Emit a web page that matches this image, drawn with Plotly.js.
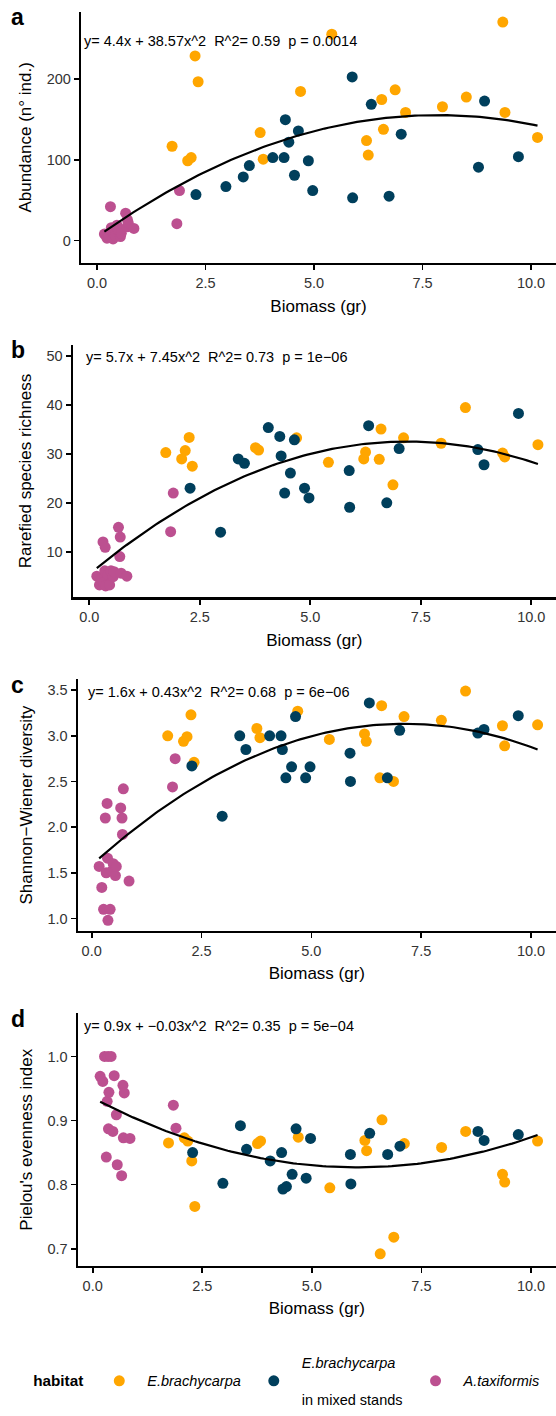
<!DOCTYPE html>
<html>
<head>
<meta charset="utf-8">
<script src="https://cdn.plot.ly/plotly-3.0.1.min.js"></script>
<style>
  html, body { margin: 0; padding: 0; background: #fff; }
  #chart { width: 556px; height: 1416px; }
</style>
</head>
<body>
<div id="chart"></div>
<script>
// ---- Data: biomass (gr) per sample and the four diversity metrics ----
const habitatNames = ['E.brachycarpa', 'E.brachycarpa in mixed stands', 'A.taxiformis'];

// E. brachycarpa
const ebBiomass  = [1.73, 2.09, 2.17, 2.26, 2.33, 3.76, 3.83, 4.69, 5.41, 6.21, 6.25, 6.56, 6.60, 6.87, 7.11, 7.96, 8.51, 9.35, 9.40, 10.15];
const ebAbund    = [117, 99, 103, 229, 197, 134, 101, 185, 256, 124, 106, 175, 138, 187, 159, 166, 178, 271, 159, 128];
const ebRich     = [30.3, 29.0, 30.7, 33.4, 27.5, 31.3, 30.8, 33.3, 28.3, 29.0, 30.4, 28.9, 35.1, 23.7, 33.3, 32.2, 39.5, 30.2, 29.4, 31.9];
const ebShannon  = [3.00, 2.94, 2.99, 3.23, 2.71, 3.08, 2.98, 3.27, 2.96, 3.02, 2.94, 2.54, 3.33, 2.50, 3.21, 3.17, 3.49, 3.11, 2.89, 3.12];
const ebPielou   = [0.865, 0.873, 0.868, 0.837, 0.766, 0.864, 0.868, 0.874, 0.795, 0.869, 0.853, 0.692, 0.901, 0.718, 0.864, 0.858, 0.883, 0.816, 0.804, 0.868];

// E. brachycarpa in mixed stands
const mixBiomass = [2.28, 2.97, 3.37, 3.51, 4.05, 4.31, 4.34, 4.42, 4.55, 4.64, 4.87, 4.97, 5.88, 5.89, 6.32, 6.73, 7.01, 8.79, 8.93, 9.71];
const mixAbund   = [57, 67, 79, 93, 103, 103, 150, 122, 81, 136, 99, 62, 203, 53, 169, 55, 132, 91, 173, 104];
const mixRich    = [23.0, 14.0, 29.0, 28.1, 35.4, 33.6, 29.6, 22.0, 26.1, 32.9, 23.0, 21.0, 26.6, 19.1, 35.8, 20.0, 31.1, 30.9, 27.8, 38.3];
const mixShannon = [2.67, 2.12, 3.00, 2.85, 3.00, 3.00, 2.85, 2.54, 2.66, 3.21, 2.54, 2.66, 2.81, 2.50, 3.36, 2.54, 3.06, 3.03, 3.07, 3.22];
const mixPielou  = [0.850, 0.802, 0.892, 0.855, 0.837, 0.850, 0.793, 0.797, 0.816, 0.887, 0.810, 0.872, 0.847, 0.801, 0.880, 0.847, 0.860, 0.883, 0.869, 0.878];

// A. taxiformis
const atBiomass  = [0.17, 0.23, 0.27, 0.31, 0.33, 0.35, 0.36, 0.37, 0.42, 0.46, 0.49, 0.54, 0.56, 0.66, 0.69, 0.70, 0.72, 0.85, 1.84, 1.90];
const atAbund    = [8, 3, 5, 42, 16, 10, 12, 2, 6, 19, 13, 5, 9, 34, 17, 26, 22, 15, 21, 62];
const atRich     = [5.0, 3.2, 4.4, 12.0, 3.7, 6.1, 10.9, 3.0, 5.3, 3.2, 6.1, 4.9, 5.9, 15.0, 9.0, 13.0, 5.6, 5.0, 14.1, 22.0];
const atShannon  = [1.57, 1.34, 1.10, 2.10, 1.50, 2.26, 1.66, 0.98, 1.10, 1.52, 1.60, 1.47, 1.57, 2.21, 2.10, 1.92, 2.42, 1.41, 2.44, 2.75];
const atPielou   = [0.969, 0.961, 1.000, 0.843, 0.930, 1.000, 0.887, 0.944, 1.000, 0.883, 0.970, 0.909, 0.831, 0.814, 0.955, 0.873, 0.943, 0.872, 0.924, 0.888];

// Axis labels and ticks
const yTitles = ['Abundance (n\u00b0 ind.)', 'Rarefied species richness', 'Shannon\u2212Wiener diversity', "Pielou's evenness index"];
const xTitle = 'Biomass (gr)';
const xTickVals = [0, 2.5, 5, 7.5, 10];
const xTickText = ['0.0', '2.5', '5.0', '7.5', '10.0'];
const yTickVals = [[0, 100, 200], [10, 20, 30, 40, 50], [1.0, 1.5, 2.0, 2.5, 3.0, 3.5], [0.7, 0.8, 0.9, 1.0]];
const yTickText = [['0', '100', '200'], ['10', '20', '30', '40', '50'], ['1.0', '1.5', '2.0', '2.5', '3.0', '3.5'], ['0.7', '0.8', '0.9', '1.0']];
const panelLetters = ['a', 'b', 'c', 'd'];
const fitLabels = [
  'y= 4.4x + 38.57x^2\u00a0\u00a0R^2= 0.59\u00a0\u00a0p = 0.0014',
  'y= 5.7x + 7.45x^2\u00a0\u00a0R^2= 0.73\u00a0\u00a0p = 1e\u221206',
  'y= 1.6x + 0.43x^2\u00a0\u00a0R^2= 0.68\u00a0\u00a0p = 6e\u221206',
  'y= 0.9x + \u22120.03x^2\u00a0\u00a0R^2= 0.35\u00a0\u00a0p = 5e\u221204'
];

// ---- Styling ----
const colors = ['#ffa600', '#003f5c', '#bc5090'];
const FONT = 'Liberation Sans, Arial, Helvetica, sans-serif';
const W = 556, H = 1416;

// Pixel frame of each panel: plot left, top, bottom, and x positions of 0 and 10
const frames = [
  { left: 81,   top: 11.7,   bottom: 265,   x0: 97,   x10: 531,   yRange: [-28, 284],     eqX: 82, eqY: 248 },
  { left: 72.7, top: 347,    bottom: 601.7, x0: 89.3, x10: 531.3, yRange: [0.64, 52.4],   eqX: 84, eqY: 49.9 },
  { left: 77.7, top: 684,    bottom: 937.7, x0: 91.7, x10: 531,   yRange: [0.862, 3.62],  eqX: 86, eqY: 3.48 },
  { left: 77.7, top: 1020.7, bottom: 1275,  x0: 92.7, x10: 531,   yRange: [0.673, 1.067], eqX: 82, eqY: 1.048 }
];
const letterPos = [[17, 17], [18, 352], [17, 690], [18, 1026]];

// Least-squares quadratic fit y = a + b x + c x^2
function quadFit(xs, ys) {
  const S = [0, 0, 0, 0, 0], T = [0, 0, 0];
  for (let i = 0; i < xs.length; i++) {
    let p = 1;
    for (let k = 0; k < 5; k++) { S[k] += p; if (k < 3) T[k] += p * ys[i]; p *= xs[i]; }
  }
  const M = [[S[0], S[1], S[2], T[0]], [S[1], S[2], S[3], T[1]], [S[2], S[3], S[4], T[2]]];
  for (let c = 0; c < 3; c++) {
    let piv = c;
    for (let r = c + 1; r < 3; r++) if (Math.abs(M[r][c]) > Math.abs(M[piv][c])) piv = r;
    [M[c], M[piv]] = [M[piv], M[c]];
    for (let r = 0; r < 3; r++) {
      if (r === c) continue;
      const f = M[r][c] / M[c][c];
      for (let k = c; k < 4; k++) M[r][k] -= f * M[c][k];
    }
  }
  return [M[0][3] / M[0][0], M[1][3] / M[1][1], M[2][3] / M[2][2]];
}

const biomass = [ebBiomass, mixBiomass, atBiomass];
const metrics = [
  [ebAbund, mixAbund, atAbund],
  [ebRich, mixRich, atRich],
  [ebShannon, mixShannon, atShannon],
  [ebPielou, mixPielou, atPielou]
];
// Legend entries are padded to three lines so every key sits on the same centre line
const NB = '\u00a0';
const legendNames = [
  NB + '<br><i>E.brachycarpa</i><br>' + NB,
  '<i>E.brachycarpa</i><br>' + NB + '<br>in mixed stands',
  NB + '<br><i>A.taxiformis</i><br>' + NB
];

const traces = [];
const layout = {
  width: W, height: H,
  margin: { l: 0, r: 0, t: 0, b: 0 },
  paper_bgcolor: '#fff', plot_bgcolor: '#fff',
  font: { family: FONT, color: '#000' },
  showlegend: true,
  legend: {
    orientation: 'h', x: 0.056, xanchor: 'left', y: 0.0177, yanchor: 'middle',
    font: { family: FONT, size: 14.5, color: '#000' },
    title: { text: NB + '<br><b>habitat</b><br>' + NB, side: 'left', font: { family: FONT, size: 15.3, color: '#000' } },
    itemwidth: 46, valign: 'middle', bgcolor: 'rgba(0,0,0,0)'
  },
  annotations: [],
  hovermode: false
};

frames.forEach((f, p) => {
  const n = p + 1;
  const xa = 'x' + (n === 1 ? '' : n), ya = 'y' + (n === 1 ? '' : n);
  const s = (f.x10 - f.x0) / 10;
  const xr = [(f.left - f.x0) / s, (W - f.x0) / s];

  // scatter points per habitat
  for (let h = 0; h < 3; h++) {
    traces.push({
      type: 'scatter', mode: 'markers',
      x: biomass[h], y: metrics[p][h],
      xaxis: xa, yaxis: ya,
      name: legendNames[h], legendgroup: 'h' + h, showlegend: p === 0,
      marker: { color: colors[h], size: 11, line: { width: 0 } },
      cliponaxis: false
    });
  }

  // quadratic fit over all samples
  const allX = [].concat(...biomass), allY = [].concat(...metrics[p]);
  const [a, b, c] = quadFit(allX, allY);
  const xmin = Math.min(...allX), xmax = Math.max(...allX);
  const fx = [], fy = [];
  for (let i = 0; i <= 120; i++) {
    const x = xmin + (xmax - xmin) * i / 120;
    fx.push(x); fy.push(a + b * x + c * x * x);
  }
  traces.push({
    type: 'scatter', mode: 'lines', x: fx, y: fy, xaxis: xa, yaxis: ya,
    showlegend: false, line: { color: '#000', width: 2.2 }
  });

  const axisCommon = {
    showline: true, linecolor: '#000', linewidth: 2.2,
    ticks: 'outside', ticklen: 5, tickwidth: 1.7, tickcolor: '#000',
    showgrid: false, zeroline: false, fixedrange: true,
    tickfont: { family: FONT, size: 14.5, color: '#333' }
  };
  layout['xaxis' + (n === 1 ? '' : n)] = Object.assign({}, axisCommon, {
    domain: [f.left / W, 1], range: xr, anchor: ya,
    tickmode: 'array', tickvals: xTickVals, ticktext: xTickText,
    title: { text: xTitle, font: { family: FONT, size: 17, color: '#000' }, standoff: 10 }
  });
  layout['yaxis' + (n === 1 ? '' : n)] = Object.assign({}, axisCommon, {
    domain: [1 - f.bottom / H, 1 - f.top / H], range: f.yRange, anchor: xa,
    tickmode: 'array', tickvals: yTickVals[p], ticktext: yTickText[p],
    title: { text: yTitles[p], font: { family: FONT, size: 17, color: '#000' }, standoff: 11 }
  });

  // fit equation label
  layout.annotations.push({
    xref: 'paper', yref: ya, x: f.eqX / W, y: f.eqY, xanchor: 'left', yanchor: 'middle',
    text: fitLabels[p], showarrow: false,
    font: { family: FONT, size: 14.5, color: '#000' }
  });
  // panel letter
  layout.annotations.push({
    xref: 'paper', yref: 'paper', x: letterPos[p][0] / W, y: 1 - letterPos[p][1] / H,
    xanchor: 'center', yanchor: 'middle', text: '<b>' + panelLetters[p] + '</b>', showarrow: false,
    font: { family: FONT, size: 23, color: '#000' }
  });
});

Plotly.newPlot('chart', traces, layout, { displayModeBar: false, staticPlot: true });
</script>
</body>
</html>
